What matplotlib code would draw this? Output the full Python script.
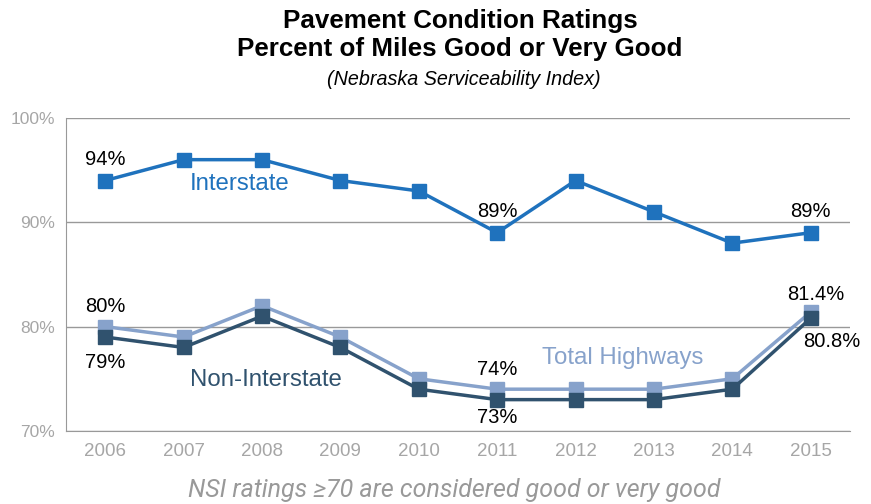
import matplotlib
matplotlib.use("Agg")
import matplotlib.pyplot as plt
import numpy as np

plt.rcParams['font.family'] = ['Liberation Sans', 'DejaVu Sans']

years = [2006, 2007, 2008, 2009, 2010, 2011, 2012, 2013, 2014, 2015]
interstate = [94, 96, 96, 94, 93, 89, 94, 91, 88, 89]
total = [80, 79, 82, 79, 75, 74, 74, 74, 75, 81.4]
non_interstate = [79, 78, 81, 78, 74, 73, 73, 73, 74, 80.8]

c_inter = '#1f72bd'
c_total = '#87a2cb'
c_non = '#30526e'

fig = plt.figure(figsize=(8.71, 5.04), dpi=100)
ax = fig.add_axes([0.0758, 0.145, 0.9, 0.621])

ax.plot(years, interstate, color=c_inter, lw=2.5, marker='s', ms=10, zorder=3)
ax.plot(years, total, color=c_total, lw=2.5, marker='s', ms=10, zorder=3)
ax.plot(years, non_interstate, color=c_non, lw=2.5, marker='s', ms=10, zorder=4)

ax.set_xlim(2005.5, 2015.5)
ax.set_ylim(70, 100)
ax.set_yticks([70, 80, 90, 100])
ax.set_yticklabels(['70%', '80%', '90%', '100%'])
ax.set_xticks(years)
ax.tick_params(axis='both', length=0, colors='#a6a6a6')
ax.tick_params(axis='x', pad=9, labelsize=13.5)
ax.tick_params(axis='y', pad=8, labelsize=12.5)
ax.yaxis.grid(True, color='#999999', lw=1)
ax.set_axisbelow(True)
for s in ['top', 'right']:
    ax.spines[s].set_visible(False)
ax.spines['left'].set_color('#999999')
ax.spines['bottom'].set_color('#999999')

# data labels
lab = dict(ha='center', va='center', fontsize=14.5, color='black')
ax.text(2006, 96.0, '94%', **lab)
ax.text(2011, 91.0, '89%', **lab)
ax.text(2015, 91.0, '89%', **lab)
ax.text(2006, 81.9, '80%', **lab)
ax.text(2006, 76.6, '79%', **lab)
ax.text(2011, 75.9, '74%', **lab)
ax.text(2011, 71.3, '73%', **lab)
ax.text(2015.06, 83.1, '81.4%', **lab)
ax.text(2015.27, 78.6, '80.8%', **lab)

# series labels
ax.text(2007.08, 93.7, 'Interstate', color=c_inter, fontsize=17.3, va='center')
ax.text(2012.6, 77.0, 'Total Highways', color=c_total, fontsize=17.3, va='center', ha='center')
ax.text(2007.08, 74.9, 'Non-Interstate', color=c_non, fontsize=17.3, va='center')

fig.text(0.528, 0.958, 'Pavement Condition Ratings', ha='center', va='center',
         fontsize=18.7, fontweight='bold')
fig.text(0.528, 0.902, 'Percent of Miles Good or Very Good', ha='center', va='center',
         fontsize=18.7, fontweight='bold')
fig.text(0.532, 0.842, '(Nebraska Serviceability Index)', ha='center', va='center',
         fontsize=14.2, style='italic')
fig.text(0.521, 0.028, 'NSI ratings \u226570 are considered good or very good', ha='center',
         va='center', fontsize=18, style='italic', color='#999999',
         family=['Roboto', 'DejaVu Sans'])

fig.savefig('out.png', dpi=100)
